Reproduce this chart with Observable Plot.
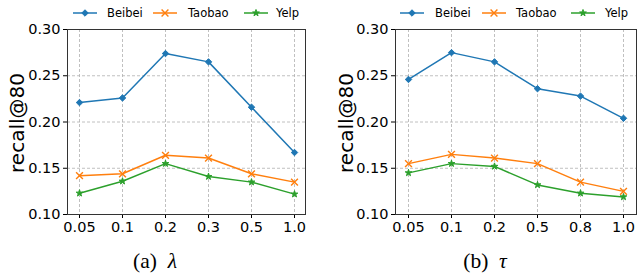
<!DOCTYPE html>
<html>
<head>
<meta charset="utf-8">
<script src="https://cdn.jsdelivr.net/npm/d3@7"></script>
<script src="https://cdn.jsdelivr.net/npm/@observablehq/plot@0.6"></script>
<style>
  html, body { margin: 0; padding: 0; background: #fff; }
  #wrap { position: relative; width: 637px; height: 274px; overflow: hidden; font-family: "DejaVu Sans", sans-serif; }
  .panel { position: absolute; top: 0; }
  .ylab { position: absolute; font-family: "DejaVu Sans", sans-serif; font-size: 20px; color: #000; white-space: nowrap;
          transform: translate(-50%, -50%) rotate(-90deg); }
  .cap { position: absolute; font-family: "Liberation Serif", "Times New Roman", serif; font-size: 21.5px; color: #000;
         white-space: nowrap; transform: translate(-50%, 0); line-height: 1; }
  #overlay { position: absolute; left: 0; top: 0; pointer-events: none; }
</style>
</head>
<body>
<div id="wrap"></div>
<script>
// ---- data ----
const seriesNames = ["Beibei", "Taobao", "Yelp"];
const seriesColors = ["#1f77b4", "#ff7f0e", "#2ca02c"];
const seriesSymbols = ["diamond2", "times", "star"];

const lambdaTicks = ["0.05", "0.1", "0.2", "0.3", "0.5", "1.0"];
const lambdaBeibei = [0.221, 0.226, 0.274, 0.265, 0.216, 0.167];
const lambdaTaobao = [0.142, 0.144, 0.164, 0.161, 0.144, 0.135];
const lambdaYelp   = [0.123, 0.136, 0.155, 0.141, 0.135, 0.122];

const tauTicks = ["0.05", "0.1", "0.2", "0.5", "0.8", "1.0"];
const tauBeibei = [0.246, 0.275, 0.265, 0.236, 0.228, 0.204];
const tauTaobao = [0.155, 0.165, 0.161, 0.155, 0.135, 0.125];
const tauYelp   = [0.145, 0.155, 0.152, 0.132, 0.123, 0.119];

const yTicks = [0.10, 0.15, 0.20, 0.25, 0.30];
const yLabel = "recall@80";
const captions = ["(a) ", "(b) "];
const capSymbols = ["λ", "τ"];

// marker styling per series (size in Plot r units, stroke width)
const markerR = [2.9, 3.2, 2.1];
const markerSW = [1, 1.4, 1];

function toRows(ticks, arrays) {
  const rows = [];
  arrays.forEach((arr, si) => arr.forEach((v, i) => rows.push({x: ticks[i], y: v, s: seriesNames[si]})));
  return rows;
}

function makePlot(ticks, arrays, width, marginLeft, marginRight) {
  const rows = toRows(ticks, arrays);
  return Plot.plot({
    width, height: 240,
    marginLeft, marginRight, marginTop: 29, marginBottom: 26,
    style: {fontFamily: "DejaVu Sans, sans-serif", background: "transparent", overflow: "visible"},
    x: {type: "point", domain: ticks, padding: 0.25},
    y: {domain: [0.10, 0.30]},
    color: {domain: seriesNames, range: seriesColors},
    symbol: {domain: seriesNames, range: seriesSymbols},
    marks: [
      Plot.gridX(ticks, {stroke: "#b0b0b0", strokeOpacity: 1, strokeDasharray: "3,2", strokeWidth: 0.8}),
      Plot.gridY(yTicks, {stroke: "#b0b0b0", strokeOpacity: 1, strokeDasharray: "3,2", strokeWidth: 0.8}),
      Plot.axisX(ticks, {tickSize: 4, tickPadding: 3, fontSize: 14.5, label: null, fill: "#000", stroke: "#000"}),
      Plot.axisY(yTicks, {tickSize: 4, tickPadding: 3, fontSize: 14.5, label: null, tickFormat: d3.format(".2f"), fill: "#000"}),
      Plot.frame({stroke: "#333", strokeWidth: 1}),
      Plot.line(rows, {x: "x", y: "y", z: "s", stroke: "s", strokeWidth: 1.5}),
      ...seriesNames.map((name, si) =>
        Plot.dot(rows.filter(d => d.s === name), {x: "x", y: "y", symbol: "s", fill: "s", stroke: "s",
          strokeWidth: markerSW[si], r: markerR[si]}))
    ]
  });
}

const wrap = document.getElementById("wrap");

const panels = [
  {ticks: lambdaTicks, arrays: [lambdaBeibei, lambdaTaobao, lambdaYelp], left: 0, width: 318, ml: 67, mr: 13, ylx: 16.5, capx: 155,
   legend: [[73, 107], [153, 188], [244, 276]]},
  {ticks: tauTicks, arrays: [tauBeibei, tauTaobao, tauYelp], left: 318, width: 319, ml: 77, mr: 1, ylx: 346, capx: 485,
   legend: [[400, 435], [482, 516], [571, 605]]}
];

const overlay = d3.create("svg").attr("id", "overlay").attr("width", 637).attr("height", 274);
const d3Sym = {diamond2: d3.symbolDiamond2, times: d3.symbolTimes, star: d3.symbolStar};

panels.forEach((p, pi) => {
  const div = document.createElement("div");
  div.className = "panel";
  div.style.left = p.left + "px";
  div.appendChild(makePlot(p.ticks, p.arrays, p.width, p.ml, p.mr));
  wrap.appendChild(div);

  const yl = document.createElement("div");
  yl.className = "ylab";
  yl.style.left = p.ylx + "px";
  yl.style.top = "123px";
  yl.textContent = yLabel;
  wrap.appendChild(yl);

  const cap = document.createElement("div");
  cap.className = "cap";
  cap.style.left = p.capx + "px";
  cap.style.top = "251px";
  cap.innerHTML = captions[pi] + "&nbsp;<i>" + capSymbols[pi] + "</i>";
  wrap.appendChild(cap);

  // legend
  p.legend.forEach(([lx, tx], si) => {
    const g = overlay.append("g");
    const cy = 13;
    g.append("line").attr("x1", lx).attr("x2", lx + 24).attr("y1", cy).attr("y2", cy)
      .attr("stroke", seriesColors[si]).attr("stroke-width", 1.5);
    const size = Math.PI * markerR[si] * markerR[si];
    g.append("path").attr("d", d3.symbol(d3Sym[seriesSymbols[si]], size)())
      .attr("transform", `translate(${lx + 12},${cy})`)
      .attr("fill", seriesSymbols[si] === "times" ? "none" : seriesColors[si])
      .attr("stroke", seriesColors[si]).attr("stroke-width", markerSW[si]);
    g.append("text").attr("x", tx).attr("y", cy).attr("dy", "0.35em")
      .attr("font-family", "DejaVu Sans, sans-serif").attr("font-size", 11.5).attr("fill", "#000")
      .text(seriesNames[si]);
  });
});

wrap.appendChild(overlay.node());
</script>
</body>
</html>
